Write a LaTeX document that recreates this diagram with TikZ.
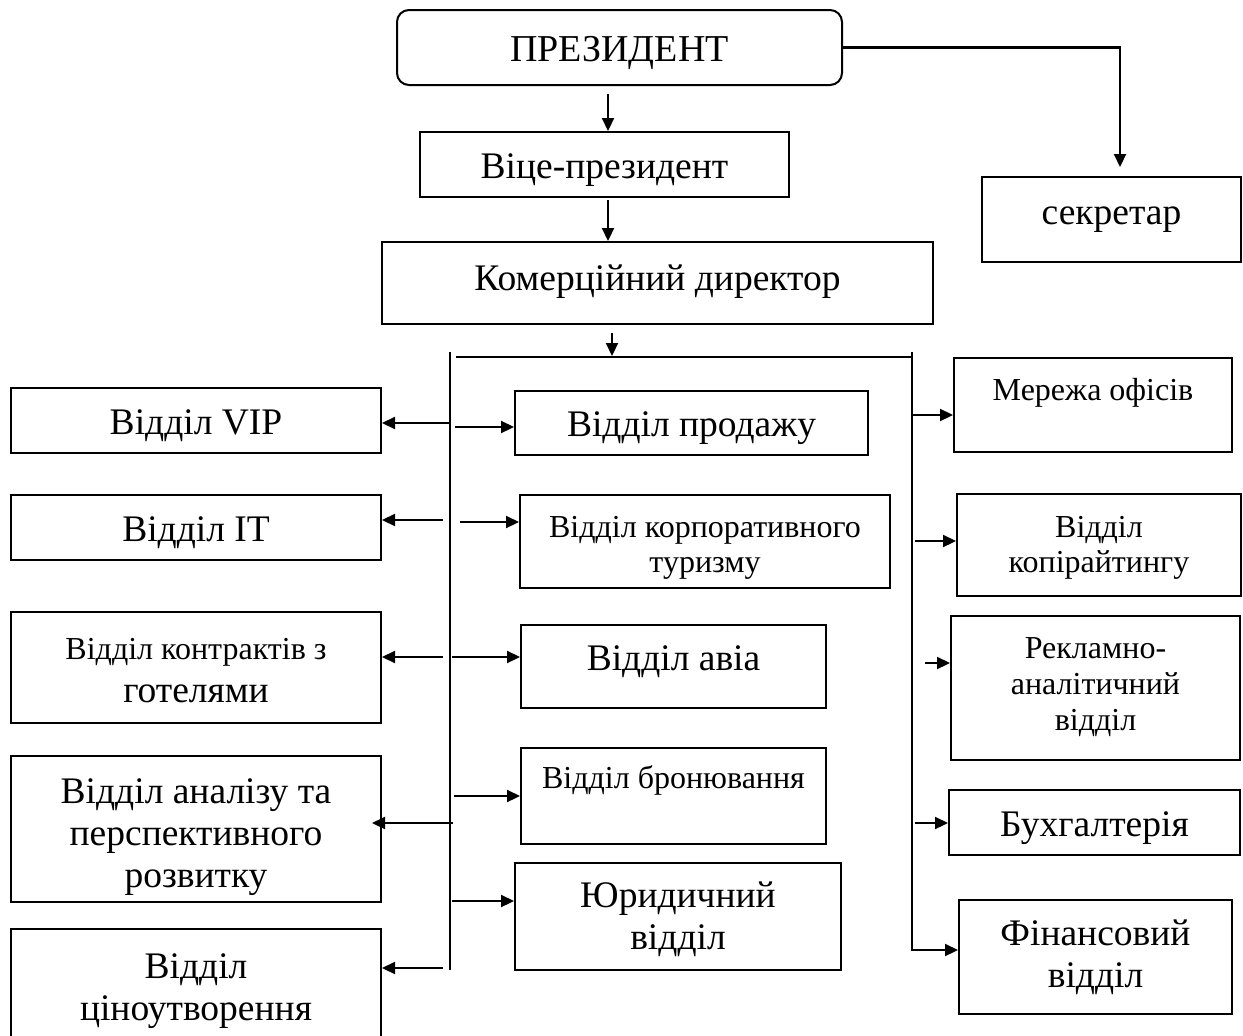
\documentclass[tikz,border=0pt]{standalone}
\usepackage{fontspec}
\setmainfont{Liberation Serif}
\usetikzlibrary{arrows.meta,calc}
\begin{document}
\begin{tikzpicture}[x=1pt,y=-1pt,
  box/.style={draw,line width=2pt,inner sep=0pt,align=center,font=\fontsize{37.5}{42}\selectfont,text height=28pt,text depth=1pt},
  sbox/.style={box,font=\fontsize{32}{35}\selectfont,text height=24pt,text depth=1pt},
  arr/.style={line width=2.2pt,-{Triangle[length=13pt,width=12pt]}},
  ln/.style={line width=2.2pt}]
\path[fill=white,use as bounding box] (0,0) rectangle (1243,1036);

% top chain
\node[box,rounded corners=12pt,minimum width=445,minimum height=75,font=\fontsize{38}{42}\selectfont] (pres) at (619.5,47.5) {ПРЕЗИДЕНТ};
\node[box,minimum width=369,minimum height=65] (vice) at (604.5,164.5) {Віце-президент};
\node[box,minimum width=551,minimum height=82,text depth=13.5pt] (kom) at (657.5,283) {Комерційний директор};
\node[box,minimum width=259,minimum height=85,text depth=18pt] (sec) at (1111.5,219.5) {секретар};

% left column
\node[box,minimum width=370,minimum height=65] (vip) at (196,420.5) {Відділ VIP};
\node[box,minimum width=370,minimum height=65] (it) at (196,527.5) {Відділ IT};
\node[box,minimum width=370,minimum height=111,font=\fontsize{37.5}{43}\selectfont,text height=71pt] (kont) at (196,667.5) {{\fontsize{32}{43}\selectfont Відділ контрактів з}\\готелями};
\node[box,minimum width=370,minimum height=146,text height=118pt] (anal) at (196,829) {Відділ аналізу та\\перспективного\\розвитку};
\node[box,minimum width=370,minimum height=117,text height=67pt] (cin) at (196,987.5) {Відділ\\ціноутворення};

% middle column
\node[box,minimum width=353,minimum height=64] (prod) at (691.5,423) {Відділ продажу};
\node[sbox,minimum width=370,minimum height=93,text height=63pt] (tur) at (705,541.5) {Відділ корпоративного\\туризму};
\node[box,minimum width=305,minimum height=83,text depth=20pt] (avia) at (673.5,666.5) {Відділ авіа};
\node[sbox,minimum width=305,minimum height=96,text depth=39pt] (bron) at (673.5,796) {Відділ бронювання};
\node[box,minimum width=326,minimum height=107,text height=67pt] (yur) at (678,916.5) {Юридичний\\відділ};

% right column
\node[sbox,minimum width=278,minimum height=94,text depth=33pt] (mer) at (1093,405) {Мережа офісів};
\node[sbox,minimum width=284,minimum height=102,text height=56pt] (kop) at (1099,545) {Відділ\\копірайтингу};
\node[sbox,minimum width=289,minimum height=144,font=\fontsize{32}{36}\selectfont,text height=86pt] (rek) at (1095.5,688) {Рекламно-\\аналітичний\\відділ};
\node[box,minimum width=291,minimum height=65] (buh) at (1094.5,822.5) {Бухгалтерія};
\node[box,minimum width=273,minimum height=114,text height=62pt] (fin) at (1095.5,957) {Фінансовий\\відділ};

% top connectors
\coordinate (p1) at (608,94);
\draw[arr] (p1) -- (p1 |- vice.north);
\coordinate (v1) at (608,200);
\draw[arr] (v1) -- (v1 |- kom.north);
\coordinate (s1) at (1120,167);
\draw[arr] (pres.east) -| (s1);

% trunks
\coordinate (Ltop) at (450,352);
\coordinate (Lbot) at (450,970);
\coordinate (Tbar) at (456,357);
\coordinate (Rtop) at (912,352);
\coordinate (Rbot) at (912,950);
\draw[ln] (Ltop) -- (Lbot);
\draw[ln] (Tbar) -- (Tbar -| Rtop);
\coordinate (k1) at (612,333);
\draw[arr] (k1) -- ($(k1 |- Tbar)+(0,-1)$);
\draw[arr] (Rtop) -- (Rbot) -- (Rbot -| fin.west);

% left arrows
\coordinate (l1) at (450,423);
\draw[arr] (l1) -- (l1 -| vip.east);
\coordinate (l2) at (443,520);
\draw[arr] (l2) -- (l2 -| it.east);
\coordinate (l3) at (443,657);
\draw[arr] (l3) -- (l3 -| kont.east);
\coordinate (l4) at (453,823);
\draw[arr] (l4) -- ($(l4 -| anal.east)+(-10,0)$);
\coordinate (l5) at (443,968);
\draw[arr] (l5) -- (l5 -| cin.east);

% middle arrows
\coordinate (m1) at (455,427);
\draw[arr] (m1) -- (m1 -| prod.west);
\coordinate (m2) at (460,522);
\draw[arr] (m2) -- (m2 -| tur.west);
\coordinate (m3) at (452,657);
\draw[arr] (m3) -- (m3 -| avia.west);
\coordinate (m4) at (454,796);
\draw[arr] (m4) -- (m4 -| bron.west);
\coordinate (m5) at (452,901);
\draw[arr] (m5) -- (m5 -| yur.west);

% right arrows
\coordinate (r1) at (912,415);
\draw[arr] (r1) -- (r1 -| mer.west);
\coordinate (r2) at (915,541);
\draw[arr] (r2) -- (r2 -| kop.west);
\coordinate (r3) at (925,663);
\draw[arr] (r3) -- (r3 -| rek.west);
\coordinate (r4) at (915,823);
\draw[arr] (r4) -- (r4 -| buh.west);
\end{tikzpicture}
\end{document}
